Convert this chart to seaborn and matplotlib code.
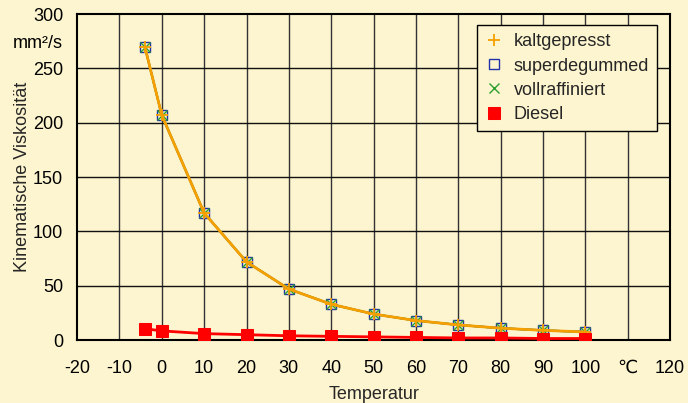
import numpy as np
import pandas as pd
import matplotlib
matplotlib.use('Agg')
import matplotlib.pyplot as plt
import seaborn as sns

# Werte
temp = [-4, 0, 10, 20, 30, 40, 50, 60, 70, 80, 90, 100]
kaltgepresst = [270, 207, 117, 72, 47, 33, 24, 18, 14, 11, 9, 7.5]
superdegummed = [270, 207, 117, 72, 47, 33, 24, 18, 14, 11, 9, 7.5]
vollraffiniert = [270, 207, 117, 72, 47, 33, 24, 18, 14, 11, 9, 7.5]
diesel = [10.5, 8.5, 6, 5, 4, 3.5, 3, 2.5, 2, 2, 1.5, 1.5]

x_ticks = [-20, -10, 0, 10, 20, 30, 40, 50, 60, 70, 80, 90, 100, 110, 120]
x_labels = ['-20', '-10', '0', '10', '20', '30', '40', '50', '60', '70', '80', '90', '100', '\u2103', '120']
y_ticks = [0, 50, 100, 150, 200, 250, 275, 300]
y_labels = ['0', '50', '100', '150', '200', '250', 'mm²/s', '300']

bg = '#FDF5CF'
sns.set_theme(style='white')
plt.rcParams['font.family'] = ['Liberation Sans', 'DejaVu Sans']

fig = plt.figure(figsize=(6.88, 4.03), dpi=100, facecolor=bg)
ax = fig.add_axes([0.112, 0.156, 0.862, 0.809])
ax.set_facecolor(bg)

df = pd.DataFrame({'Temperatur': temp, 'kaltgepresst': kaltgepresst,
                   'superdegummed': superdegummed, 'vollraffiniert': vollraffiniert,
                   'Diesel': diesel})

sns.lineplot(data=df, x='Temperatur', y='superdegummed', ax=ax, color='#2233AA', lw=1.5,
             marker='s', markersize=7, markerfacecolor='none', markeredgecolor='#2233AA',
             markeredgewidth=1, label='superdegummed', zorder=3)
sns.lineplot(data=df, x='Temperatur', y='vollraffiniert', ax=ax, color='#2ca02c', lw=1.5,
             marker='x', markersize=7, markeredgecolor='#2ca02c', markeredgewidth=1,
             label='vollraffiniert', zorder=4)
sns.lineplot(data=df, x='Temperatur', y='kaltgepresst', ax=ax, color='#F5A000', lw=2,
             marker='+', markersize=9, markeredgecolor='#F5A000', markeredgewidth=1.3,
             label='kaltgepresst', zorder=5)
sns.lineplot(data=df, x='Temperatur', y='Diesel', ax=ax, color='#FF0000', lw=2,
             marker='s', markersize=8, markerfacecolor='#FF0000', markeredgecolor='#FF0000',
             label='Diesel', zorder=6)

ax.set_xlim(-20, 120)
ax.set_ylim(0, 300)
ax.set_xticks(x_ticks)
ax.set_xticklabels(x_labels)
ax.set_yticks(y_ticks)
ax.set_yticklabels(y_labels)
ax.tick_params(axis='both', length=0, labelsize=13, colors='black')
ax.tick_params(axis='x', pad=14)
ax.tick_params(axis='y', pad=10)

for v in range(-10, 120, 10):
    ax.axvline(v, color='#333333', lw=1, zorder=1)
for v in range(50, 300, 50):
    ax.axhline(v, color='#111111', lw=1, zorder=1)
ax.axhline(0, color='black', lw=2, zorder=2)

for s in ax.spines.values():
    s.set_color('black')
    s.set_linewidth(1.5)

ax.set_xlabel('Temperatur', fontsize=13)
ax.set_ylabel('Kinematische Viskosität', fontsize=13)
ax.xaxis.set_label_coords(0.5, -0.14)
ax.yaxis.set_label_coords(-0.078, 0.5)

handles, labels = ax.get_legend_handles_labels()
order = [labels.index(n) for n in ['kaltgepresst', 'superdegummed', 'vollraffiniert', 'Diesel']]
leg = ax.legend([handles[i] for i in order], [labels[i] for i in order],
                loc='upper right', bbox_to_anchor=(0.978, 0.966), borderaxespad=0,
                fontsize=13, frameon=True, fancybox=False, facecolor=bg, edgecolor='black',
                framealpha=1, handlelength=1.0, handletextpad=0.6, labelspacing=0.4,
                borderpad=0.45)
for line in leg.get_lines():
    line.set_linestyle('none')
leg.get_frame().set_linewidth(1)

fig.savefig('out.png', dpi=100, facecolor=bg)
